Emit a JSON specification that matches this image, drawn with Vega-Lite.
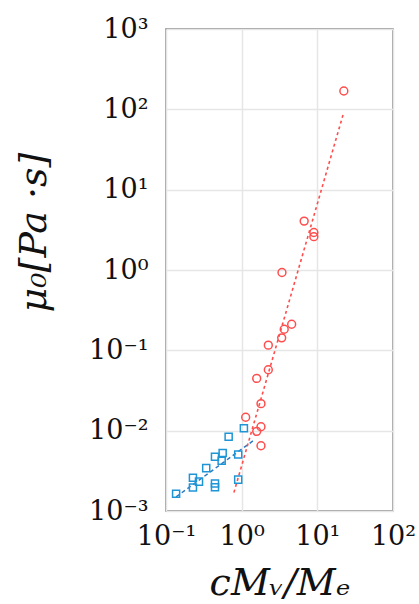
{
  "$schema": "https://vega.github.io/schema/vega-lite/v6.json",
  "autosize": "none",
  "padding": {"left": 166, "top": 29, "right": 26, "bottom": 93},
  "width": 227,
  "height": 482,
  "background": "white",
  "config": {
    "view": {"stroke": "#7f7f7f", "strokeWidth": 1.5},
    "axis": {
      "grid": true, "gridColor": "#e6e6e6", "gridWidth": 1.5,
      "domain": false, "ticks": false, "tickSize": 0,
      "labelOverlap": false, "labelFlush": false,
      "labelFont": "DejaVu Serif", "labelFontSize": 27, "labelColor": "#111111",
      "titleFont": "DejaVu Serif", "titleFontSize": 38, "titleFontStyle": "italic", "titleFontWeight": "normal", "titleColor": "#111111"
    }
  },
  "datasets": {
    "pts": [
      {"x": 22.4, "y": 169, "s": "red"},
      {"x": 6.7, "y": 4.06, "s": "red"},
      {"x": 9.0, "y": 2.93, "s": "red"},
      {"x": 9.0, "y": 2.6, "s": "red"},
      {"x": 3.41, "y": 0.93, "s": "red"},
      {"x": 4.58, "y": 0.211, "s": "red"},
      {"x": 3.65, "y": 0.183, "s": "red"},
      {"x": 3.38, "y": 0.143, "s": "red"},
      {"x": 2.25, "y": 0.116, "s": "red"},
      {"x": 2.25, "y": 0.0574, "s": "red"},
      {"x": 1.58, "y": 0.0447, "s": "red"},
      {"x": 1.80, "y": 0.0217, "s": "red"},
      {"x": 1.13, "y": 0.0147, "s": "red"},
      {"x": 1.80, "y": 0.0112, "s": "red"},
      {"x": 1.58, "y": 0.0098, "s": "red"},
      {"x": 1.80, "y": 0.0065, "s": "red"},
      {"x": 1.07, "y": 0.0107, "s": "blue"},
      {"x": 0.673, "y": 0.0084, "s": "blue"},
      {"x": 0.561, "y": 0.00526, "s": "blue"},
      {"x": 0.90, "y": 0.00506, "s": "blue"},
      {"x": 0.444, "y": 0.00473, "s": "blue"},
      {"x": 0.544, "y": 0.00422, "s": "blue"},
      {"x": 0.34, "y": 0.00342, "s": "blue"},
      {"x": 0.227, "y": 0.0026, "s": "blue"},
      {"x": 0.273, "y": 0.00232, "s": "blue"},
      {"x": 0.227, "y": 0.00196, "s": "blue"},
      {"x": 0.444, "y": 0.0022, "s": "blue"},
      {"x": 0.444, "y": 0.00198, "s": "blue"},
      {"x": 0.90, "y": 0.00246, "s": "blue"},
      {"x": 0.136, "y": 0.00164, "s": "blue"}
    ],
    "fits": [
      {"x": 0.79, "y": 0.0017, "s": "red"},
      {"x": 22.4, "y": 92.5, "s": "red"},
      {"x": 0.136, "y": 0.0015, "s": "blue"},
      {"x": 1.42, "y": 0.0075, "s": "blue"}
    ]
  },
  "layer": [
    {
      "data": {"name": "fits"},
      "transform": [{"filter": "datum.s == 'blue'"}],
      "mark": {"type": "line", "strokeDash": [4, 3], "strokeWidth": 1.5, "color": "#2a78c0"},
      "encoding": {
        "x": {"field": "x", "type": "quantitative", "scale": {"type": "log", "domain": [0.1, 100], "nice": false},
          "axis": {"values": [0.1, 1, 10, 100], "title": "cMᵥ/Mₑ", "labelPadding": 12, "titleY": 83, "titleBaseline": "alphabetic",
            "labelExpr": "datum.value < 0.5 ? '10⁻¹' : datum.value < 5 ? '10⁰' : datum.value < 50 ? '10¹' : '10²'"}},
        "y": {"field": "y", "type": "quantitative", "scale": {"type": "log", "domain": [0.001, 1000], "nice": false},
          "axis": {"values": [0.001, 0.01, 0.1, 1, 10, 100, 1000], "title": "μ₀[Pa ·s]", "labelPadding": 18,
            "titleX": -132, "titleY": 203, "titleAlign": "center", "titleBaseline": "middle",
            "labelExpr": "datum.value < 0.005 ? '10⁻³' : datum.value < 0.05 ? '10⁻²' : datum.value < 0.5 ? '10⁻¹' : datum.value < 5 ? '10⁰' : datum.value < 50 ? '10¹' : datum.value < 500 ? '10²' : '10³'"}}
      }
    },
    {
      "data": {"name": "fits"},
      "transform": [{"filter": "datum.s == 'red'"}],
      "mark": {"type": "line", "strokeDash": [3, 3], "strokeWidth": 1.6, "color": "#ff4d4d"},
      "encoding": {
        "x": {"field": "x", "type": "quantitative"},
        "y": {"field": "y", "type": "quantitative"}
      }
    },
    {
      "data": {"name": "pts"},
      "transform": [{"filter": "datum.s == 'blue'"}],
      "mark": {"type": "point", "shape": "square", "filled": false, "size": 50, "strokeWidth": 1.5, "color": "#1f95d6", "opacity": 1},
      "encoding": {
        "x": {"field": "x", "type": "quantitative"},
        "y": {"field": "y", "type": "quantitative"}
      }
    },
    {
      "data": {"name": "pts"},
      "transform": [{"filter": "datum.s == 'red'"}],
      "mark": {"type": "point", "shape": "circle", "filled": false, "size": 62, "strokeWidth": 1.5, "color": "#ff4d4d", "opacity": 1},
      "encoding": {
        "x": {"field": "x", "type": "quantitative"},
        "y": {"field": "y", "type": "quantitative"}
      }
    }
  ]
}
